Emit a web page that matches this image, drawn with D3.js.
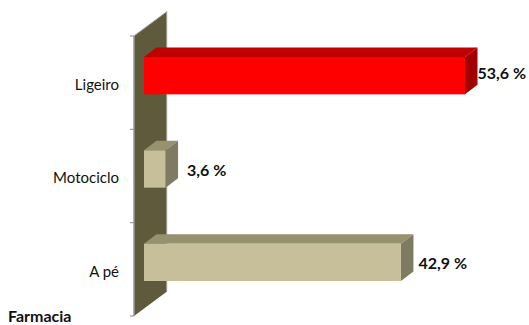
<!DOCTYPE html>
<html><head><meta charset="utf-8">
<script src="https://cdn.jsdelivr.net/npm/d3@7/dist/d3.min.js"></script>
<style>html,body{margin:0;padding:0;background:#fff}svg{display:block}text{font-family:Lato,"Open Sans",sans-serif}</style>
</head><body><svg id="c" width="529" height="325"></svg>
<script>
const categories = ["Ligeiro","Motociclo","A pé"];
const values = [53.6,3.6,42.9];
const valueLabels = ["53,6 %","3,6 %","42,9 %"];
const fronts = ["#ff0000","#c7bf99","#c7bf99"];
const tops = ["#c00000","#96916f","#96916f"];
const sides = ["#a00000","#7f7b62","#7f7b62"];
const title = "Farmacia";

const svg = d3.select("#c");
const x = d3.scaleLinear().domain([0,53.6]).range([144,465]);
const y = d3.scaleBand().domain(categories).range([29,309]).paddingInner(0.6).paddingOuter(0.3);
const dx = 12.5, dy = 9.5;
const wallX0 = 134, wallDx = 33, wallDy = 24.5;
const yTop = 36, yBot = 316;
const labelGap = [0,9,5], labelDy = [-2,1,1.5];
const line = d3.line();

svg.append("path").attr("d",line([[wallX0,yTop],[wallX0+wallDx,yTop-wallDy],[wallX0+wallDx,yBot-wallDy],[wallX0,yBot]])+"Z").attr("fill","#5f5a3c");
svg.append("path").attr("d",line([[wallX0+wallDx,yTop-wallDy],[wallX0+wallDx,yBot-wallDy]])).attr("stroke","#d8d8d8").attr("stroke-width",1).attr("fill","none");
svg.append("path").attr("d",line([[wallX0,yTop],[wallX0+wallDx,yTop-wallDy]])).attr("stroke","#9a9a9a").attr("stroke-width",1).attr("fill","none");
svg.append("path").attr("d",line([[wallX0,yTop],[wallX0,yBot]])).attr("stroke","#9a9a9a").attr("stroke-width",1.5).attr("fill","none");
d3.range(4).forEach(i=>{
  const t = yTop + i*(yBot-yTop)/3;
  svg.append("line").attr("x1",wallX0-4).attr("x2",wallX0).attr("y1",t).attr("y2",t).attr("stroke","#8c8c8c");
});

categories.forEach((c,i)=>{
  const x0=x(0), x1=x(values[i]), y0=y(c), y1=y0+y.bandwidth(), yc=y0+y.bandwidth()/2;
  svg.append("path").attr("d",line([[x0,y0],[x0+dx,y0-dy],[x1+dx,y0-dy],[x1,y0]])+"Z").attr("fill",tops[i]);
  svg.append("path").attr("d",line([[x1,y0],[x1+dx,y0-dy],[x1+dx,y1-dy],[x1,y1]])+"Z").attr("fill",sides[i]);
  svg.append("rect").attr("x",x0).attr("y",y0).attr("width",x1-x0).attr("height",y1-y0).attr("fill",fronts[i]);
  svg.append("text").attr("x",x1+dx+labelGap[i]).attr("y",yc+labelDy[i]).attr("dy","0.35em")
    .attr("font-size",16).attr("font-weight",700).attr("fill","#111").text(valueLabels[i]);
  svg.append("text").attr("x",119).attr("y",yc+9).attr("dy","0.35em").attr("text-anchor","end")
    .attr("font-size",15).attr("fill","#111").text(c);
});
svg.append("text").attr("x",8).attr("y",321.5).attr("font-size",16).attr("font-weight",700).attr("fill","#111").text(title);
</script></body></html>
